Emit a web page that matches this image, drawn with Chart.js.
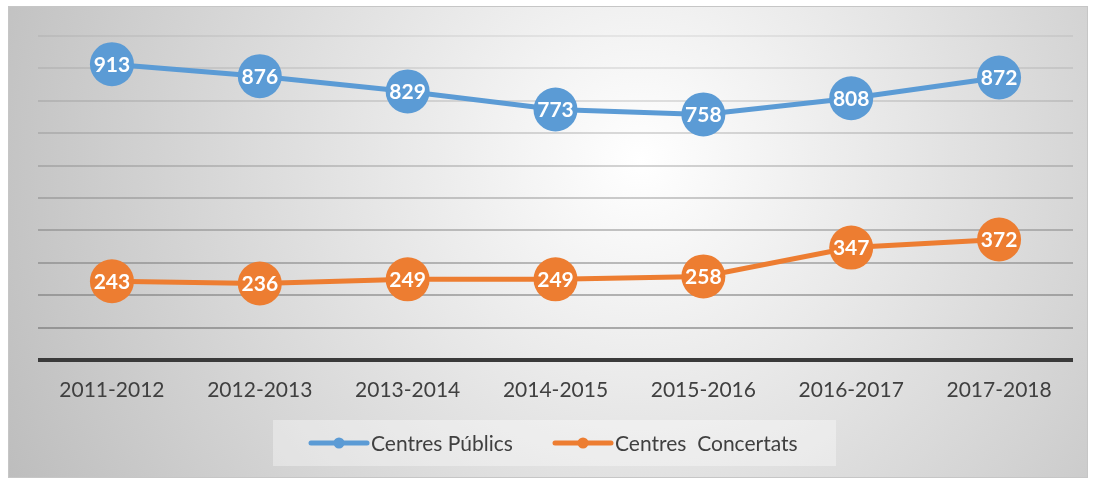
<!DOCTYPE html>
<html>
<head>
<meta charset="utf-8">
<script src="https://cdn.jsdelivr.net/npm/chart.js"></script>
<style>
  body { margin: 0; background: #fff; }
</style>
</head>
<body>
<canvas id="chart" width="1097" height="480"></canvas>
<script>
const years = ['2011-2012', '2012-2013', '2013-2014', '2014-2015', '2015-2016', '2016-2017', '2017-2018'];
const publics = [913, 876, 829, 773, 758, 808, 872];
const concertats = [243, 236, 249, 249, 258, 347, 372];
const seriesNames = ['Centres Públics', 'Centres  Concertats'];
const colors = ['#5B9BD5', '#ED7D31'];

const font = 'Lato, "Open Sans", sans-serif';

// frame + radial gradient background
const frame = {
    id: 'frame',
    beforeDraw(chart) {
        const c = chart.ctx;
        c.save();
        const g = c.createRadialGradient(640, 160, 0, 640, 160, 720);
        g.addColorStop(0, '#ffffff');
        g.addColorStop(1, '#bcbcbc');
        c.fillStyle = g;
        c.fillRect(8, 6, 1080, 472);
        c.strokeStyle = '#c6c6c6';
        c.lineWidth = 1;
        c.strokeRect(8.5, 6.5, 1079, 471);
        c.restore();
    }
};

// white value labels inside markers
const valueLabels = {
    id: 'valueLabels',
    afterDatasetsDraw(chart) {
        const c = chart.ctx;
        c.save();
        c.font = 'bold 21px ' + font;
        c.fillStyle = '#ffffff';
        c.textAlign = 'center';
        c.textBaseline = 'middle';
        chart.data.datasets.forEach((ds, i) => {
            chart.getDatasetMeta(i).data.forEach((pt, j) => {
                c.fillText(ds.data[j], pt.x, pt.y + 1);
            });
        });
        c.restore();
    }
};

// boxed legend at the bottom
const boxLegend = {
    id: 'boxLegend',
    afterDraw(chart) {
        const c = chart.ctx;
        c.save();
        c.fillStyle = 'rgba(255,255,255,0.35)';
        c.fillRect(273, 420, 563, 46);
        c.font = '21px ' + font;
        c.textBaseline = 'middle';
        const starts = [311, 555];
        chart.data.datasets.forEach((ds, i) => {
            const x = starts[i], y = 443;
            c.strokeStyle = ds.borderColor;
            c.lineWidth = 5;
            c.lineCap = 'round';
            c.beginPath();
            c.moveTo(x, y);
            c.lineTo(x + 56, y);
            c.stroke();
            c.fillStyle = ds.borderColor;
            c.beginPath();
            c.arc(x + 28, y, 5.5, 0, Math.PI * 2);
            c.fill();
            c.fillStyle = '#404040';
            c.fillText(ds.label, x + 60, y + 1);
        });
        c.restore();
    }
};

new Chart(document.getElementById('chart'), {
    type: 'line',
    data: {
        labels: years,
        datasets: [
            {
                label: seriesNames[0],
                data: publics,
                borderColor: colors[0],
                backgroundColor: colors[0],
                borderWidth: 5,
                pointRadius: 22,
                pointHoverRadius: 22,
                pointBorderWidth: 0
            },
            {
                label: seriesNames[1],
                data: concertats,
                borderColor: colors[1],
                backgroundColor: colors[1],
                borderWidth: 5,
                pointRadius: 22,
                pointHoverRadius: 22,
                pointBorderWidth: 0
            }
        ]
    },
    options: {
        responsive: false,
        animation: false,
        clip: false,
        layout: { padding: { left: 38, right: 24, top: 36, bottom: 0 } },
        plugins: {
            legend: { display: false },
            tooltip: { enabled: false }
        },
        scales: {
            x: {
                offset: true,
                grid: { display: false },
                border: { display: false },
                ticks: { color: '#404040', font: { family: font, size: 21 }, padding: 10 },
                afterFit: (s) => { s.height = 120; }
            },
            y: {
                min: 0,
                max: 1000,
                ticks: { display: false, stepSize: 100 },
                border: { display: false },
                grid: {
                    drawTicks: false,
                    // lines fade towards the top, as in the original
                    color: (ctx) => ctx.tick.value === 0
                        ? '#3a3a3a'
                        : 'rgba(100,100,100,' + (0.55 - ctx.tick.value / 1000 * 0.45).toFixed(3) + ')',
                    lineWidth: (ctx) => ctx.tick.value === 0 ? 4 : 2
                }
            }
        }
    },
    plugins: [frame, valueLabels, boxLegend]
});
</script>
</body>
</html>
